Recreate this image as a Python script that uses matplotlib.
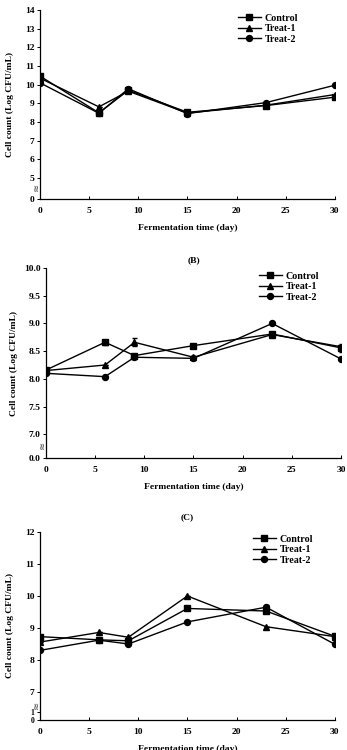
import numpy as np
import matplotlib
matplotlib.use("Agg")
import matplotlib.pyplot as plt

plt.rcParams['font.family'] = ['Liberation Serif', 'DejaVu Serif']
plt.rcParams['font.weight'] = 'bold'

days = [0, 6, 9, 15, 23, 30]
series_names = ['Control', 'Treat-1', 'Treat-2']
markers = ['s', '^', 'o']

# panel A
a_control = [10.46, 8.49, 9.70, 8.52, 8.88, 9.33]
a_treat1 = [10.35, 8.81, 9.65, 8.48, 8.90, 9.47]
a_treat2 = [10.10, 8.47, 9.78, 8.45, 9.04, 9.97]
a_err = [[0.0] * 6, [0.0] * 6, [0.0] * 6]
a_ticks = [0, 5, 6, 7, 8, 9, 10, 11, 12, 13, 14]

# panel B
b_control = [8.16, 8.66, 8.42, 8.60, 8.81, 8.56]
b_treat1 = [8.15, 8.25, 8.66, 8.39, 8.80, 8.58]
b_treat2 = [8.10, 8.04, 8.39, 8.37, 9.00, 8.36]
b_err = [[0.0, 0.04, 0.0, 0.0, 0.0, 0.07], [0.0, 0.0, 0.07, 0.0, 0.0, 0.0], [0.0] * 6]
b_ticks = [0.0, 7.0, 7.5, 8.0, 8.5, 9.0, 9.5, 10.0]

# panel C
c_control = [8.73, 8.63, 8.60, 9.61, 9.53, 8.74]
c_treat1 = [8.56, 8.86, 8.71, 10.00, 9.04, 8.73]
c_treat2 = [8.30, 8.62, 8.50, 9.19, 9.65, 8.49]
c_err = [[0.0] * 6, [0.0] * 6, [0.0, 0.0, 0.0, 0.0, 0.08, 0.0]]
c_ticks = [0, 1, 7, 8, 9, 10, 11, 12]

FS = 6.8


def broken_scale(real, disp):
    fwd = lambda y: np.interp(y, real, disp)
    inv = lambda d: np.interp(d, disp, real)
    return fwd, inv


def draw_panel(ax, vals, errs, ticks, real, disp, ylim, fmt, title=None, title_pad=5,
               legend_anchor=(0.98, 1.0), ylabelpad=4, small_fs=None, break_frac=0.05):
    ax.set_yscale('function', functions=broken_scale(real, disp))
    for v, e, m, name in zip(vals, errs, markers, series_names):
        ax.plot(days, v, marker=m, color='black', markersize=4.3, linewidth=1.0, label=name)
        ax.errorbar(days, v, yerr=e, fmt='none', ecolor='black', capsize=1.8, elinewidth=0.7)
    ax.set_xlim(0, 30)
    ax.set_ylim(*ylim)
    ax.set_xticks([0, 5, 10, 15, 20, 25, 30])
    ax.set_yticks(ticks)
    ax.set_yticklabels([fmt % t for t in ticks])
    ax.spines['top'].set_visible(False)
    ax.spines['right'].set_visible(False)
    ax.tick_params(axis='y', direction='out', length=2, width=0.7, labelsize=FS, pad=2)
    ax.tick_params(axis='x', direction='in', length=2, width=0.7, labelsize=FS, pad=6)
    if small_fs:
        for lab in ax.get_yticklabels()[:2]:
            lab.set_fontsize(small_fs)
    for s in ['left', 'bottom']:
        ax.spines[s].set_linewidth(0.9)
    ax.set_xlabel('Fermentation time (day)', fontsize=FS, fontweight='bold', labelpad=6)
    ax.set_ylabel('Cell count (Log CFU/mL)', fontsize=FS, fontweight='bold', labelpad=ylabelpad)
    ax.legend(loc='upper right', bbox_to_anchor=legend_anchor, frameon=False, fontsize=7.2,
              handlelength=2.3, handletextpad=0.4, labelspacing=0.15, borderpad=0.1,
              borderaxespad=0.0)
    if title:
        ax.set_title(title, fontsize=FS, fontweight='bold', pad=title_pad)
    # axis break mark
    ax.text(-0.012, break_frac, '\u2248', transform=ax.transAxes, rotation=90, fontsize=7,
            ha='center', va='center', family='DejaVu Sans', color='#666666')


fig = plt.figure(figsize=(3.47, 7.5), dpi=100)

ax1 = fig.add_axes([0.115, 0.7347, 0.850, 0.252])
g1 = 21 / 18.7
draw_panel(ax1, [a_control, a_treat1, a_treat2], a_err, a_ticks,
           [0, 5, 14], [0, g1, g1 + 9], (0, 14), '%d', legend_anchor=(0.88, 0.985),
           ylabelpad=8, break_frac=0.065)

ax2 = fig.add_axes([0.1326, 0.3893, 0.850, 0.2533])
g2 = 24 / 56
draw_panel(ax2, [b_control, b_treat1, b_treat2], b_err, b_ticks,
           [0, 7, 10], [0, g2, g2 + 3], (0, 10), '%.1f', title='(B)', title_pad=4,
           legend_anchor=(0.93, 0.985), ylabelpad=4, break_frac=0.07)

ax3 = fig.add_axes([0.115, 0.04, 0.850, 0.2507])
draw_panel(ax3, [c_control, c_treat1, c_treat2], c_err, c_ticks,
           [0, 1, 7, 12], [0, 0.25, 0.875, 5.875], (0, 12), '%d', title='(C)', title_pad=9,
           legend_anchor=(0.93, 0.99), ylabelpad=8, small_fs=5.6, break_frac=0.08)

fig.savefig('out.png', dpi=100)
